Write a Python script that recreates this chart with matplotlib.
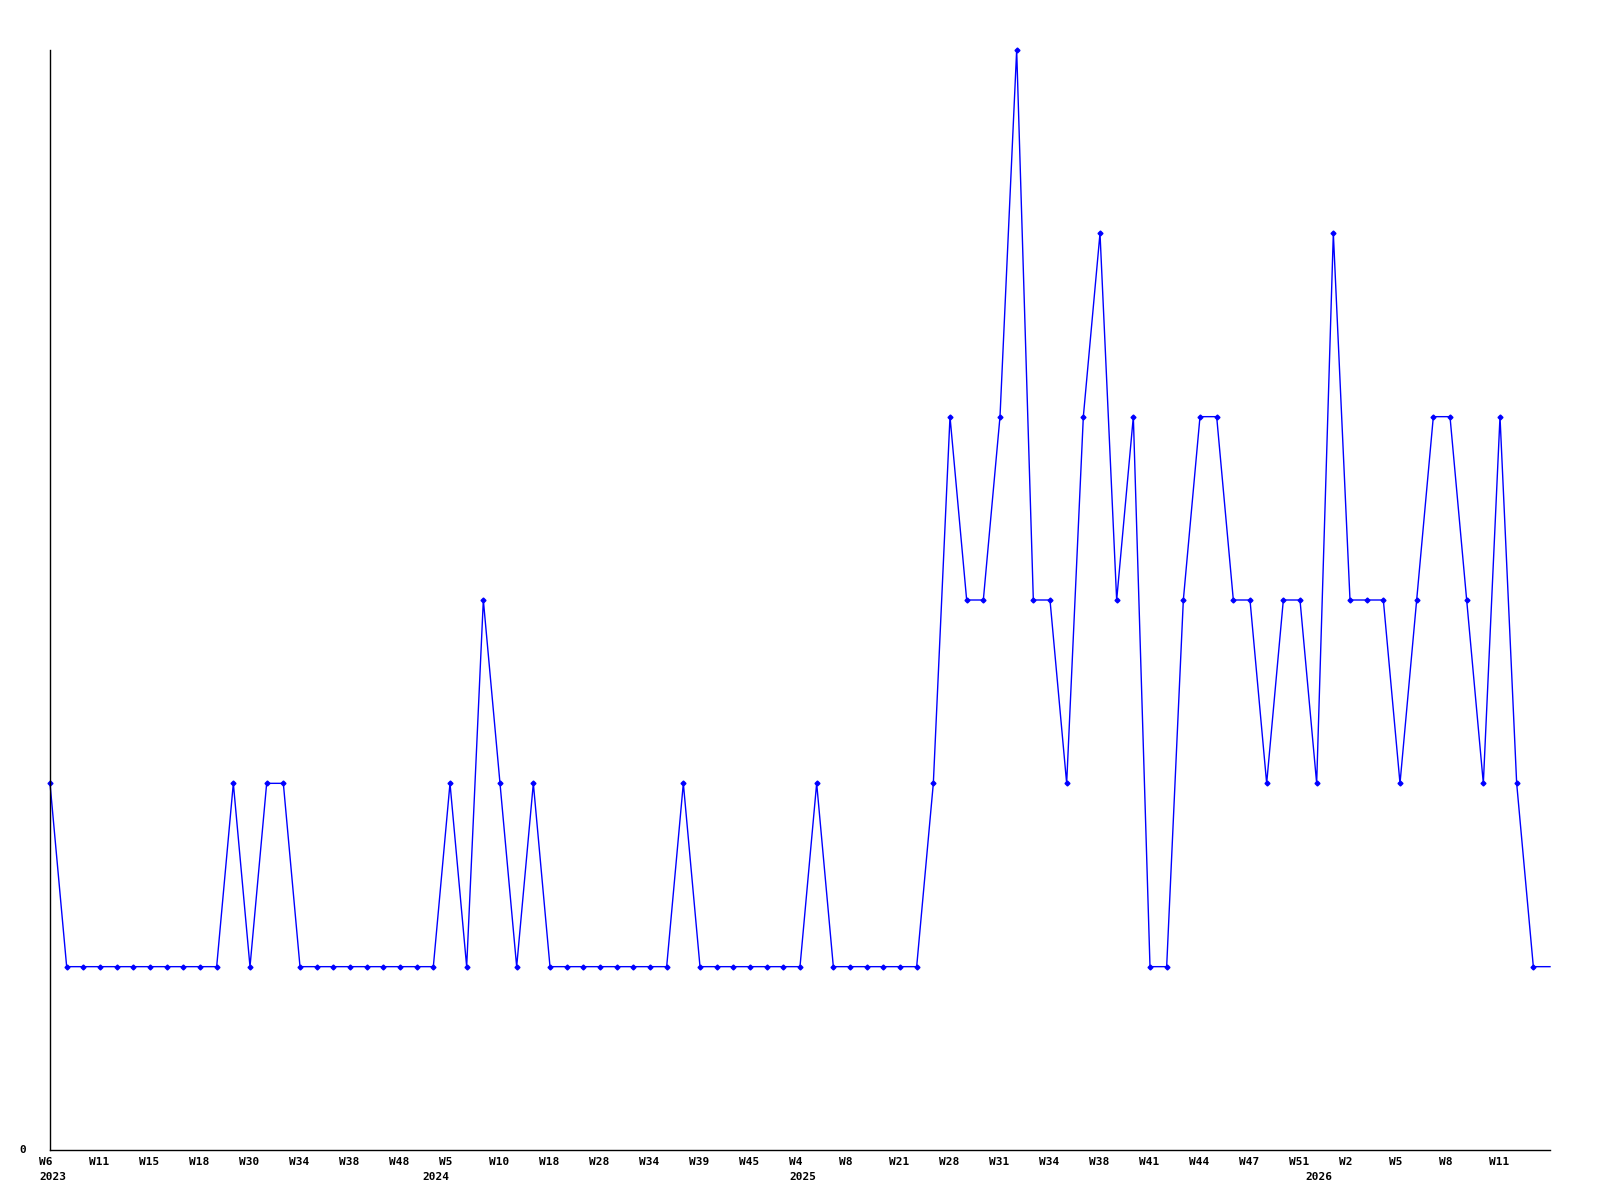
import matplotlib
matplotlib.use("Agg")
import matplotlib.pyplot as plt
import numpy as np

# weekly counts (last value only continues the line to the edge)
values = [2, 1, 1, 1, 1, 1, 1, 1, 1, 1, 1, 2, 1, 2, 2, 1, 1, 1, 1, 1,
          1, 1, 1, 1, 2, 1, 3, 2, 1, 2, 1, 1, 1, 1, 1, 1, 1, 1, 2, 1,
          1, 1, 1, 1, 1, 1, 2, 1, 1, 1, 1, 1, 1, 2, 4, 3, 3, 4, 6, 3,
          3, 2, 4, 5, 3, 4, 1, 1, 3, 4, 4, 3, 3, 2, 3, 3, 2, 5, 3, 3,
          3, 2, 3, 4, 4, 3, 2, 4, 2, 1, 1]

week_labels = ["W6", "W11", "W15", "W18", "W30", "W34", "W38", "W48", "W5", "W10",
               "W18", "W28", "W34", "W39", "W45", "W4", "W8", "W21", "W28", "W31",
               "W34", "W38", "W41", "W44", "W47", "W51", "W2", "W5", "W8", "W11"]
week_step = 3

years = ["2023", "2024", "2025", "2026"]
year_pos = [0, 23, 45, 76]

x = np.arange(len(values))

fig = plt.figure(figsize=(16, 12), dpi=100)
ax = fig.add_axes([50 / 1600, 50 / 1200, 1500 / 1600, 1100 / 1200])

ax.plot(x, values, color="#0000ff", linewidth=1.0, marker="D", markersize=2.5,
        markevery=list(range(len(values) - 1)), clip_on=False)

ax.set_xlim(0, len(values) - 1)
ax.set_ylim(0, max(values))

for s in ["top", "right"]:
    ax.spines[s].set_visible(False)
ax.spines["left"].set_linewidth(1)
ax.spines["bottom"].set_linewidth(1)

ax.set_xticks([])
ax.set_yticks([])

font = dict(family="DejaVu Sans Mono", fontweight="bold", fontsize=8)

ax.annotate("0", xy=(0, 0), xycoords="data", xytext=(-17, 0),
            textcoords="offset points", ha="right", va="center", **font)

for i, lab in enumerate(week_labels):
    ax.annotate(lab, xy=(i * week_step, 0), xycoords=("data", "axes fraction"),
                xytext=(-8, -5), textcoords="offset points",
                ha="left", va="top", **font)

for p, yr in zip(year_pos, years):
    ax.annotate(yr, xy=(p, 0), xycoords=("data", "axes fraction"),
                xytext=(-8, -16), textcoords="offset points",
                ha="left", va="top", **font)

fig.savefig("out.png", dpi=100)
